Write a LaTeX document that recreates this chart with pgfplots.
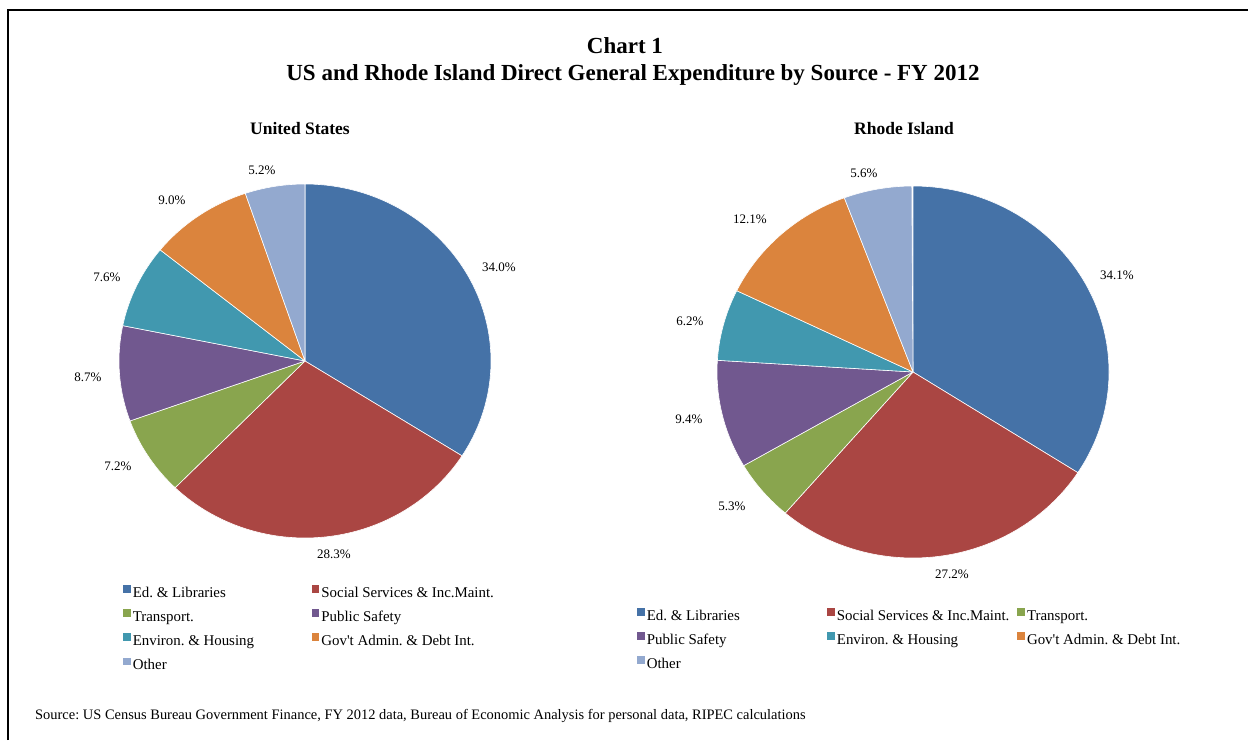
\documentclass[border=0pt]{standalone}
\usepackage{pgfplots}
\pgfplotsset{compat=1.18}
\usepackage{fontspec}
\setmainfont{Liberation Serif}
\frenchspacing
\definecolor{cEd}{HTML}{4572A7}
\definecolor{cSoc}{HTML}{AA4643}
\definecolor{cTra}{HTML}{89A54E}
\definecolor{cPub}{HTML}{71588F}
\definecolor{cEnv}{HTML}{4198AF}
\definecolor{cGov}{HTML}{DB843D}
\definecolor{cOth}{HTML}{93A9CF}
\gdef\cum{0}
% #1 cx, #2 cy, #3 rx, #4 ry, #5 percent, #6 colour
\newcommand\pieslice[6]{%
  \pgfmathsetmacro\aA{90-3.6*(\cum+#5)}%
  \pgfmathsetmacro\aB{90-3.6*\cum}%
  \edef\doslice{\noexpand\addplot[fill=#6, draw=white, line width=0.6pt, line join=round, domain=\aA:\aB, samples=120, forget plot] ({#1+#3*cos(x)}, {#2+#4*sin(x)}) -- (axis cs:#1,#2) -- cycle;}%
  \doslice
  \pgfmathsetmacro\tmp{\cum+#5}%
  \xdef\cum{\tmp}%
}
\newcommand\lbl[3]{\node[font=\fontsize{13}{15}\selectfont] at (axis cs:#1,#2) {#3};}
\newcommand\apos{{\addfontfeatures{Mapping=}\symbol{"27}}}
\pgfplotsset{
  piebase/.style={at={(0,0)}, anchor=south west, scale only axis, width=1248pt, height=740pt,
    xmin=0, xmax=1248, ymin=0, ymax=740, hide axis, clip=false,
    legend image code/.code={\path[##1, draw=none] (0pt,1.1pt) rectangle (7.6pt,8.7pt);},
    legend cell align=left,
    legend style={draw=none, fill=none, inner sep=0pt, outer sep=0pt,
      font=\fontsize{14.9}{17}\selectfont, anchor=north west,
      nodes={inner sep=0pt, text height=11pt, text depth=4pt},
      /tikz/column sep=0pt, /tikz/row sep=8pt}}
}
\begin{document}
\begin{tikzpicture}
% ---------- United States ----------
\begin{axis}[piebase, legend columns=2, legend style={at={(0.09856,0.2095)}}]
\gdef\cum{0}
\pieslice{305}{379}{186}{177}{34.0}{cEd}
\pieslice{305}{379}{186}{177}{28.3}{cSoc}
\pieslice{305}{379}{186}{177}{7.2}{cTra}
\pieslice{305}{379}{186}{177}{8.7}{cPub}
\pieslice{305}{379}{186}{177}{7.6}{cEnv}
\pieslice{305}{379}{186}{177}{9.0}{cGov}
\pieslice{305}{379}{186}{177}{5.2}{cOth}
\addlegendimage{fill=cEd}\addlegendentry{\makebox[181pt][l]{\hspace{2.2pt}Ed. \& Libraries}}
\addlegendimage{fill=cSoc}\addlegendentry{\makebox[181pt][l]{\hspace{2.2pt}Social Services \& Inc.Maint.}}
\addlegendimage{fill=cTra}\addlegendentry{\makebox[181pt][l]{\hspace{2.2pt}Transport.}}
\addlegendimage{fill=cPub}\addlegendentry{\makebox[181pt][l]{\hspace{2.2pt}Public Safety}}
\addlegendimage{fill=cEnv}\addlegendentry{\makebox[181pt][l]{\hspace{2.2pt}Environ. \& Housing}}
\addlegendimage{fill=cGov}\addlegendentry{\makebox[181pt][l]{\hspace{2.2pt}Gov\apos t Admin. \& Debt Int.}}
\addlegendimage{fill=cOth}\addlegendentry{\makebox[181pt][l]{\hspace{2.2pt}Other}}
\lbl{499}{473}{34.0\%}
\lbl{334}{186}{28.3\%}
\lbl{118}{274}{7.2\%}
\lbl{88}{363}{8.7\%}
\lbl{107}{463}{7.6\%}
\lbl{172}{540}{9.0\%}
\lbl{262}{570}{5.2\%}
\node[font=\fontsize{23}{27}\selectfont\bfseries] at (axis cs:625,694) {Chart 1};
\node[font=\fontsize{23}{27}\selectfont\bfseries] at (axis cs:633,665) {US and Rhode Island Direct General Expenditure by Source - FY 2012};
\node[font=\fontsize{17.5}{20}\selectfont\bfseries] at (axis cs:300,611) {United States};
\node[font=\fontsize{17.5}{20}\selectfont\bfseries] at (axis cs:904,611) {Rhode Island};
\node[font=\fontsize{14.45}{16}\selectfont, anchor=west, inner sep=0pt] at (axis cs:35,24) {Source: US Census Bureau Government Finance, FY 2012 data, Bureau of Economic Analysis for personal data, RIPEC calculations};
\draw[line width=2.2pt] (axis cs:8,0) -- (axis cs:8,730) -- (axis cs:1248,730);
\end{axis}
% ---------- Rhode Island ----------
\begin{axis}[piebase, legend columns=3, legend style={at={(0.5104,0.1784)}}]
\gdef\cum{0}
\pieslice{913}{368}{196}{186}{34.1}{cEd}
\pieslice{913}{368}{196}{186}{27.2}{cSoc}
\pieslice{913}{368}{196}{186}{5.3}{cTra}
\pieslice{913}{368}{196}{186}{9.4}{cPub}
\pieslice{913}{368}{196}{186}{6.2}{cEnv}
\pieslice{913}{368}{196}{186}{12.1}{cGov}
\pieslice{913}{368}{196}{186}{5.6}{cOth}
\addlegendimage{fill=cEd}\addlegendentry{\makebox[182.5pt][l]{\hspace{2.2pt}Ed. \& Libraries}}
\addlegendimage{fill=cSoc}\addlegendentry{\makebox[182.5pt][l]{\hspace{2.2pt}Social Services \& Inc.Maint.}}
\addlegendimage{fill=cTra}\addlegendentry{\makebox[182.5pt][l]{\hspace{2.2pt}Transport.}}
\addlegendimage{fill=cPub}\addlegendentry{\makebox[182.5pt][l]{\hspace{2.2pt}Public Safety}}
\addlegendimage{fill=cEnv}\addlegendentry{\makebox[182.5pt][l]{\hspace{2.2pt}Environ. \& Housing}}
\addlegendimage{fill=cGov}\addlegendentry{\makebox[182.5pt][l]{\hspace{2.2pt}Gov\apos t Admin. \& Debt Int.}}
\addlegendimage{fill=cOth}\addlegendentry{\makebox[182.5pt][l]{\hspace{2.2pt}Other}}
\lbl{1117}{465}{34.1\%}
\lbl{952}{166}{27.2\%}
\lbl{732}{234}{5.3\%}
\lbl{689}{321}{9.4\%}
\lbl{690}{419}{6.2\%}
\lbl{750}{521}{12.1\%}
\lbl{864}{567}{5.6\%}
\end{axis}
\pgfresetboundingbox
\path[use as bounding box] (0,0) rectangle (1248pt,740pt);
\end{tikzpicture}
\end{document}
